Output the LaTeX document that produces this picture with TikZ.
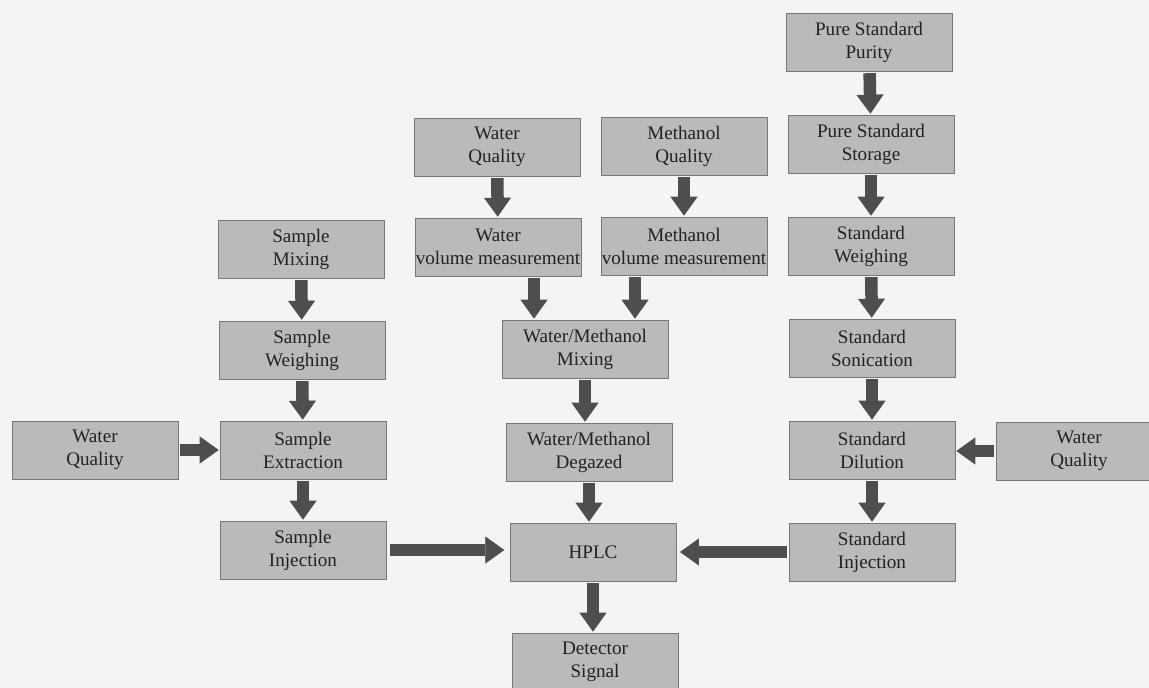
\documentclass[tikz,border=0pt]{standalone}
\usepackage{fontspec}
\setmainfont{Liberation Serif}
\definecolor{boxfill}{RGB}{186, 186, 186}
\definecolor{boxline}{RGB}{120, 120, 120}
\definecolor{arrowfill}{RGB}{78, 78, 78}
\definecolor{paper}{RGB}{244, 244, 244}
\definecolor{inktext}{RGB}{34, 34, 34}
\usepackage{tikz}
\usetikzlibrary{arrows.meta, positioning, calc}
\tikzset{
    grainbox/.style={
        rectangle,
        draw=boxline,
        line width=0.5pt,
        fill=boxfill,
        minimum width=3.32cm,
        minimum height=1.16cm,
        inner sep=0pt,
        align=center,
        text=inktext,
        font=\fontsize{10.9pt}{13.1pt}\selectfont
    },
    blockarrow/.style={-{Triangle[length=0.38cm, width=0.54cm, line width=0.4pt]}, line width=0.25cm, color=arrowfill, shorten <=1pt, shorten >=0.5pt}
}

\begin{document}
\begin{tikzpicture}[x=0.02cm, y=-0.02cm]
          \fill[paper] (0,0) rectangle (1149,688);
          \useasboundingbox (0,0) rectangle (1149,688);
          % sample line
          \node[grainbox] (smix) at (301,249) {Sample\\Mixing};
          \node[grainbox] (swei) at (302,350) {Sample\\Weighing};
          \node[grainbox] (sext) at (303,450) {Sample\\Extraction};
          \node[grainbox] (sinj) at (303,550) {Sample\\Injection};
          \node[grainbox] (wql) at (95,450) {Water\\Quality};
          % mobile phase line
          \node[grainbox] (wq) at (497,147) {Water\\Quality};
          \node[grainbox] (mq) at (684,146) {Methanol\\Quality};
          \node[grainbox] (wvol) at (498,247) {Water\\volume measurement};
          \node[grainbox] (mvol) at (684,246) {Methanol\\volume measurement};
          \node[grainbox] (wmmix) at (585,349) {Water/Methanol\\Mixing};
          \node[grainbox] (degas) at (589,452) {Water/Methanol\\Degazed};
          \node[grainbox] (hplc) at (593,552) {HPLC};
          \node[grainbox] (det) at (595,662) {Detector\\Signal};
          % standard line
          \node[grainbox] (pur) at (869,42) {Pure Standard\\Purity};
          \node[grainbox] (stor) at (871,144) {Pure Standard\\Storage};
          \node[grainbox] (stwei) at (871,246) {Standard\\Weighing};
          \node[grainbox] (son) at (872,348) {Standard\\Sonication};
          \node[grainbox] (dil) at (872,450) {Standard\\Dilution};
          \node[grainbox] (stinj) at (872,552) {Standard\\Injection};
          \node[grainbox] (wqr) at (1079,451) {Water\\Quality};
          
          \coordinate (wcol) at (534,0);
          \coordinate (mcol) at (635,0);
          
          \draw[blockarrow] (smix) -- (swei);
          \draw[blockarrow] (swei) -- (sext);
          \draw[blockarrow] (sext) -- (sinj);
          \draw[blockarrow] (wql) -- (sext);
          \draw[blockarrow, shorten <=2pt, shorten >=3pt] (sinj) -- (sinj -| hplc.west);
          \draw[blockarrow] (wq) -- (wvol);
          \draw[blockarrow] (mq) -- (mvol);
          \draw[blockarrow] (wvol.south -| wcol) -- (wmmix.north -| wcol);
          \draw[blockarrow] (mvol.south -| mcol) -- (wmmix.north -| mcol);
          \draw[blockarrow] (wmmix.south) -- (wmmix.south |- degas.north);
          \draw[blockarrow] (degas.south) -- (degas.south |- hplc.north);
          \draw[blockarrow] (hplc.south) -- (hplc.south |- det.north);
          \draw[blockarrow] (pur) -- (stor);
          \draw[blockarrow] (stor) -- (stwei);
          \draw[blockarrow] (stwei) -- (son);
          \draw[blockarrow] (son) -- (dil);
          \draw[blockarrow] (dil) -- (stinj);
          \draw[blockarrow] (wqr.west) -- (wqr.west -| dil.east);
          \draw[blockarrow, shorten >=2pt] (stinj.west) -- (stinj.west -| hplc.east);
        \end{tikzpicture}
\end{document}
